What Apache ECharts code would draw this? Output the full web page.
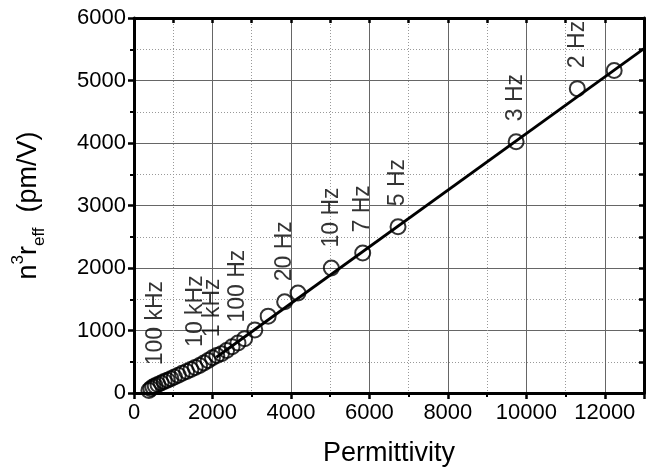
<!DOCTYPE html>
<html>
<head>
<meta charset="utf-8">
<script src="https://cdn.jsdelivr.net/npm/echarts@6/dist/echarts.min.js"></script>
<style>
html,body{margin:0;padding:0;background:#fff;}
#c{width:647px;height:472px;}
</style>
</head>
<body>
<div id="c"></div>
<script>
// Measured points: permittivity (x) vs n^3 r_eff in pm/V (y)
const permittivity = [380, 430, 480, 540, 610, 690, 770, 850, 940, 1030, 1130, 1230, 1340, 1450, 1560, 1670, 1780, 1890, 2000, 2110, 2230, 2360, 2500, 2650, 2820, 3080, 3420, 3840, 4180, 5030, 5830, 6730, 9740, 11300, 12240];
const n3reff      = [40, 70, 95, 115, 135, 160, 185, 205, 230, 255, 285, 315, 345, 375, 410, 440, 480, 520, 565, 600, 630, 680, 740, 800, 870, 1010, 1230, 1460, 1600, 2000, 2240, 2660, 4020, 4870, 5160];
const freqLabels  = ['', '', '', '100 kHz', '', '', '', '', '', '', '', '', '', '', '10 kHz', '', '', '', '1 kHz', '', '', '', '', '100 Hz', '', '', '', '20 Hz', '', '10 Hz', '7 Hz', '5 Hz', '3 Hz', '2 Hz', ''];
// Linear fit line end points
const fitX = [2100, 13000];
const fitY = [572, 5510];

const font = '"Liberation Sans", Arial, Helvetica, sans-serif';
const chart = echarts.init(document.getElementById('c'), null, {renderer: 'canvas'});

const pts = permittivity.map((x, i) => ({
  value: [x, n3reff[i]],
  label: {show: freqLabels[i] !== '', formatter: freqLabels[i]}
}));

chart.setOption({
  animation: false,
  backgroundColor: '#fff',
  grid: {left: 134, right: 2, top: 18, bottom: 79},
  xAxis: [{
    type: 'value', min: 0, max: 13000, interval: 2000, position: 'bottom',
    name: 'Permittivity', nameLocation: 'middle', nameGap: 47,
    nameTextStyle: {fontFamily: font, fontSize: 27, color: '#000'},
    axisLine: {show: true, onZero: false, lineStyle: {color: '#000', width: 3}},
    axisTick: {show: true, inside: false, length: 6, lineStyle: {color: '#000', width: 2.5}},
    minorTick: {show: true, splitNumber: 2, length: 4, lineStyle: {color: '#000', width: 2}},
    axisLabel: {fontFamily: font, fontSize: 22, color: '#000', margin: 9,
      formatter: v => v > 12000 ? '' : String(v)},
    splitLine: {show: true, lineStyle: {color: '#666', width: 1}},
    minorSplitLine: {show: true, lineStyle: {color: '#999', width: 1, type: [1, 2]}}
  }, {
    type: 'value', min: 0, max: 13000, interval: 1000, position: 'top',
    axisLine: {show: true, onZero: false, lineStyle: {color: '#000', width: 3}},
    axisTick: {show: true, inside: true, length: 5, lineStyle: {color: '#000', width: 2.5}},
    axisLabel: {show: false}, splitLine: {show: false}
  }],
  yAxis: [{
    type: 'value', min: 0, max: 6000, interval: 1000, position: 'left',
    name: '{b|n}{sup|3}{b|r}{sub|eff}{b|  (pm/V)}', nameLocation: 'middle', nameGap: 86, nameRotate: 90,
    nameTextStyle: {
      fontFamily: font, fontSize: 27, color: '#000',
      rich: {
        b: {fontFamily: font, fontSize: 27, color: '#000', lineHeight: 38},
        sup: {fontFamily: font, fontSize: 17, color: '#000', lineHeight: 17, verticalAlign: 'top'},
        sub: {fontFamily: font, fontSize: 17, color: '#000', lineHeight: 17, verticalAlign: 'bottom'}
      }
    },
    axisLine: {show: true, onZero: false, lineStyle: {color: '#000', width: 3}},
    axisTick: {show: true, inside: false, length: 6, lineStyle: {color: '#000', width: 2.5}},
    minorTick: {show: true, splitNumber: 2, length: 4, lineStyle: {color: '#000', width: 2}},
    axisLabel: {fontFamily: font, fontSize: 22, color: '#000', margin: 8, formatter: v => String(v)},
    splitLine: {show: true, lineStyle: {color: '#666', width: 1}},
    minorSplitLine: {show: true, lineStyle: {color: '#999', width: 1, type: [1, 2]}}
  }, {
    type: 'value', min: 0, max: 6000, interval: 500, position: 'right',
    axisLine: {show: true, onZero: false, lineStyle: {color: '#000', width: 3}},
    axisTick: {show: true, inside: true, length: 5, lineStyle: {color: '#000', width: 2.5}},
    axisLabel: {show: false}, splitLine: {show: false}
  }],
  series: [{
    type: 'line', xAxisIndex: 0, yAxisIndex: 0,
    data: fitX.map((x, i) => [x, fitY[i]]),
    showSymbol: false, symbol: 'none',
    lineStyle: {color: '#000', width: 2.8},
    z: 3
  }, {
    type: 'scatter', xAxisIndex: 0, yAxisIndex: 0,
    data: pts,
    symbol: 'circle', symbolSize: 15,
    itemStyle: {color: 'rgba(255,255,255,0)', borderColor: '#000', borderWidth: 2},
    label: {
      position: 'top', distance: 12, rotate: 90, align: 'left', verticalAlign: 'middle',
      fontFamily: font, fontSize: 23, color: '#000'
    },
    labelLayout: {hideOverlap: false},
    z: 4
  }]
});
</script>
</body>
</html>
